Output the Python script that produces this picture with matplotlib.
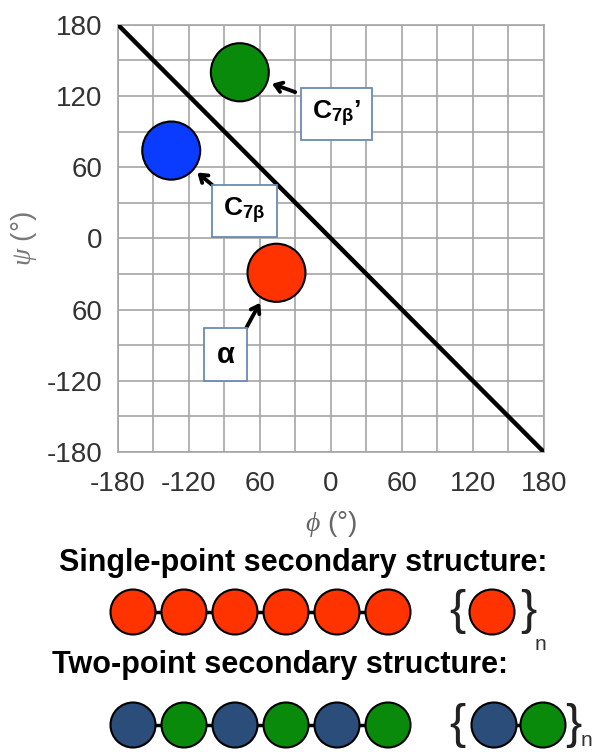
import numpy as np
import matplotlib.pyplot as plt
from matplotlib.patches import Circle, Ellipse

plt.rcParams['font.family'] = ['Liberation Sans', 'DejaVu Sans']
plt.rcParams['mathtext.fontset'] = 'custom'
plt.rcParams['mathtext.rm'] = 'Liberation Sans'
plt.rcParams['mathtext.it'] = 'Liberation Serif:italic'
plt.rcParams['mathtext.bf'] = 'Liberation Sans:bold'

# Ramachandran points (phi, psi) in degrees
names = ["C$_{\\mathbf{7β}}$’", "C$_{\\mathbf{7β}}$", "α"]
phi = [-77, -135, -46]
psi = [140, 74, -29]
colors = ["#0a8a0a", "#0a3cff", "#ff3300"]

# the dividing line
diag_phi = [-180, 180]
diag_psi = [180, -180]

ticks = [-180, -120, -60, 0, 60, 120, 180]
x_ticklabels = ["-180", "-120", "60", "0", "60", "120", "180"]
y_ticklabels = ["-180", "-120", "60", "0", "60", "120", "180"]

# chains for the lower panel
single_chain = ["#ff3300"] * 6
single_unit = ["#ff3300"]
two_chain = ["#2a4d7a", "#0a8a0a"] * 3
two_unit = ["#2a4d7a", "#0a8a0a"]

fig = plt.figure(figsize=(5.93, 7.52), dpi=100)

# background axes in pixel coords for the lower cartoon
bg = fig.add_axes([0, 0, 1, 1])
bg.set_xlim(0, 593)
bg.set_ylim(752, 0)
bg.axis("off")
bg.set_zorder(-1)

ax = fig.add_axes([0.199, 0.399, 0.718, 0.568])
ax.set_xlim(-180, 180)
ax.set_ylim(-180, 180)
ax.set_xticks(ticks)
ax.set_yticks(ticks)
ax.set_xticklabels(x_ticklabels)
ax.set_yticklabels(y_ticklabels)
ax.set_xticks(np.arange(-180, 181, 30), minor=True)
ax.set_yticks(np.arange(-180, 181, 30), minor=True)
ax.grid(True, which="both", color="#a5a5a5", lw=1.2)
ax.tick_params(which="both", length=0, labelsize=20, labelcolor="#333333")
ax.tick_params(axis="x", pad=14)
ax.tick_params(axis="y", pad=11)
for s in ax.spines.values():
    s.set_color("#a5a5a5")
    s.set_linewidth(1.2)
ax.set_axisbelow(True)

ax.plot(diag_phi, diag_psi, color="black", lw=3.2, solid_capstyle="round", zorder=3)

r = 24.5
# label placement relative to each point: arrow tail and box centre
tail_off = [(49, -17.5), (37, -31), (-27, -49)]
box_off = [(82, -35), (62, -51), (-43, -69)]
label_size = [19, 19, 21]
for i in range(len(phi)):
    ax.add_patch(Circle((phi[i], psi[i]), r, facecolor=colors[i], edgecolor="black", lw=1.5, zorder=4))
    tx, ty = phi[i] + tail_off[i][0], psi[i] + tail_off[i][1]
    d = np.hypot(tail_off[i][0], tail_off[i][1])
    hx = phi[i] + tail_off[i][0] / d * (r + 2)
    hy = psi[i] + tail_off[i][1] / d * (r + 2)
    ax.annotate("", xy=(hx, hy), xytext=(tx, ty),
                arrowprops=dict(arrowstyle="->,head_length=0.5,head_width=0.35", color="black", lw=2.8),
                zorder=5)
    ax.text(phi[i] + box_off[i][0], psi[i] + box_off[i][1], names[i], fontsize=label_size[i],
            fontweight="bold", ha="center", va="center", zorder=6,
            bbox=dict(boxstyle="square,pad=0.42", facecolor="white", edgecolor="#6a8bb5", lw=1.3))

ax.set_xlabel("$\\phi$ (°)", fontsize=20, color="#666666", labelpad=8)
ax.set_ylabel("$\\psi$ (°)", fontsize=20, color="#777777", labelpad=6)

# lower cartoon
bg.text(303, 571, "Single-point secondary structure:", fontsize=22, fontweight="bold",
        ha="center", va="baseline")
bg.text(280, 673, "Two-point secondary structure:", fontsize=22, fontweight="bold",
        ha="center", va="baseline")


def draw_chain(cols, x0, y, step=51, d=45):
    xs = [x0 + step * k for k in range(len(cols))]
    if len(xs) > 1:
        bg.plot([xs[0], xs[-1]], [y, y], color="black", lw=2.5, zorder=1)
    for x, c in zip(xs, cols):
        bg.add_patch(Ellipse((x, y), d, d, facecolor=c, edgecolor="black", lw=1.5, zorder=2))


draw_chain(single_chain, 133, 612)
draw_chain(single_unit, 492, 612)
draw_chain(two_chain, 133, 725)
draw_chain(two_unit, 494, 725, step=49)

for yb, xl, xr, xn, yn in [(612, 457, 528, 540, 644), (725, 457, 573, 586, 740)]:
    bg.text(xl, yb, "{", fontsize=35, ha="center", va="center", color="#222222", fontweight="light")
    bg.text(xr, yb, "}", fontsize=35, ha="center", va="center", color="#222222", fontweight="light")
    bg.text(xn, yn, "n", fontsize=15, ha="center", va="center", color="#333333")

fig.savefig("out.png", dpi=100)
